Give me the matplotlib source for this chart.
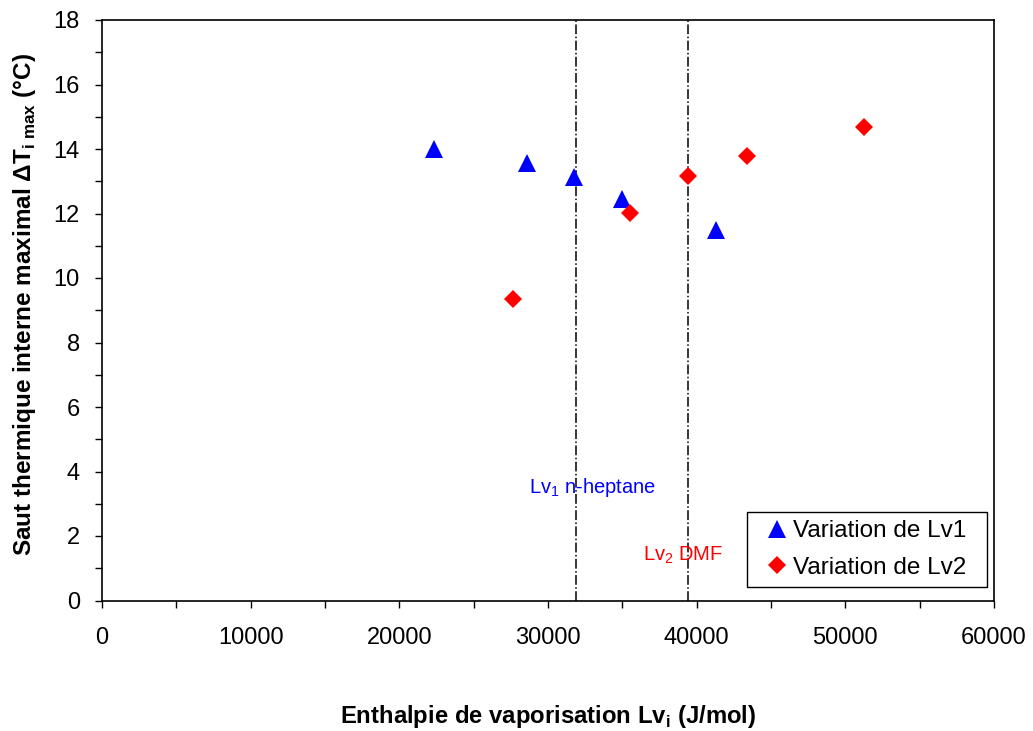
import matplotlib
matplotlib.use("Agg")
import matplotlib.pyplot as plt
from matplotlib.ticker import MultipleLocator
from matplotlib.patches import Rectangle

plt.rcParams['font.family'] = ['Liberation Sans', 'DejaVu Sans']
plt.rcParams['mathtext.fontset'] = 'custom'
plt.rcParams['mathtext.rm'] = 'Liberation Sans'
plt.rcParams['mathtext.bf'] = 'Liberation Sans:bold'

# Data
lv1_x = [22300, 28600, 31750, 35000, 41300]
lv1_y = [14.0, 13.56, 13.13, 12.45, 11.48]
lv2_x = [27650, 35500, 39400, 43400, 51250]
lv2_y = [9.34, 12.01, 13.16, 13.78, 14.68]
ref_heptane = 31850
ref_dmf = 39450
series_labels = ['Variation de Lv1', 'Variation de Lv2']

fig = plt.figure(figsize=(10.33, 7.31), dpi=100)
ax = fig.add_axes([102/1033, 1-600.5/731, 892/1033, 580.5/731])

ax.plot([ref_heptane, ref_heptane], [0, 18], color='black', lw=1.1, ls='-.', zorder=1)
ax.plot([ref_dmf, ref_dmf], [0, 18], color='black', lw=1.1, ls='-.', zorder=1)

ax.plot(lv1_x, lv1_y, ls='none', marker='^', color='#0000ff', markersize=12.5,
        markeredgewidth=0, label=series_labels[0], zorder=3)
ax.plot(lv2_x, lv2_y, ls='none', marker='D', color='#ff0000', markersize=8.7,
        markeredgewidth=0, label=series_labels[1], zorder=3)

ax.set_xlim(0, 60000)
ax.set_ylim(0, 18)
ax.xaxis.set_major_locator(MultipleLocator(10000))
ax.xaxis.set_minor_locator(MultipleLocator(5000))
ax.yaxis.set_major_locator(MultipleLocator(2))
ax.yaxis.set_minor_locator(MultipleLocator(1))
ax.tick_params(which='both', direction='out', length=5, width=1, color='black')
ax.tick_params(axis='x', which='major', labelsize=17, pad=14)
ax.tick_params(axis='y', which='major', labelsize=17, pad=11)
for s in ax.spines.values():
    s.set_linewidth(1.2)
    s.set_color('black')

ax.text(ref_heptane + 1150, 3.5, r'Lv$_1$ n-heptane', color='#0000ff', fontsize=14.5,
        ha='center', va='center')
ax.text(ref_dmf - 350, 1.4, r'Lv$_2$ DMF', color='#ff0000', fontsize=14.5,
        ha='center', va='center')

# legend frame
ax.add_patch(Rectangle((0.7231, 0.02326), 0.269, 0.1292, transform=ax.transAxes,
                       facecolor='white', edgecolor='black', lw=1.0, zorder=4))
leg = ax.legend(loc='center', bbox_to_anchor=(0.8576, 0.0879), fontsize=17.5,
                frameon=False, handlelength=0.7, handletextpad=0.3, borderpad=0,
                labelspacing=0.6, borderaxespad=0)
leg.set_zorder(5)

fig.text(548/1033, 1-717/731, r'Enthalpie de vaporisation Lv$_{\mathbf{i}}$ (J/mol)',
         fontsize=17.2, fontweight='bold', ha='center', va='center')
fig.text(25/1033, 1-305/731, r'Saut thermique interne maximal $\mathbf{\Delta}$T$_{\mathbf{i\ max}}$ (°C)',
         fontsize=17.5, fontweight='bold', ha='center', va='center', rotation=90)

fig.savefig('out.png', dpi=100)
